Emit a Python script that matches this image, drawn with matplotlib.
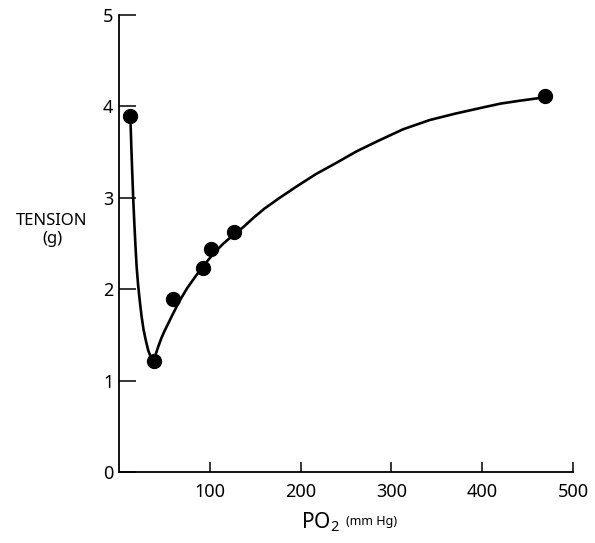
import matplotlib
matplotlib.use("Agg")
import matplotlib.pyplot as plt

# Measured data points
po2 = [12, 38.5, 60, 92.5, 101, 127, 469]
tension = [3.89, 1.21, 1.89, 2.23, 2.44, 2.63, 4.11]

# Hand-drawn fitted curve (traced)
curve_x = [12.8, 13.6, 14.5, 15.7, 16.9, 18.1, 19.4, 21, 22.8, 24.9, 27, 29.5,
           32.2, 34.5, 36.6, 38.5, 40.5, 43.2, 46.5, 50, 54, 57.9, 62, 66, 75,
           85, 95, 105, 115, 128, 137, 148, 160, 177, 195, 217, 239, 262, 287,
           313, 342, 370, 397, 420, 440, 462]
curve_y = [3.80, 3.55, 3.30, 2.98, 2.72, 2.48, 2.25, 2.05, 1.88, 1.70, 1.56, 1.44,
           1.33, 1.27, 1.25, 1.25, 1.29, 1.37, 1.46, 1.54, 1.62, 1.70, 1.78, 1.86,
           2.01, 2.15, 2.28, 2.40, 2.50, 2.61, 2.68, 2.78, 2.88, 3.00, 3.12, 3.26,
           3.38, 3.51, 3.63, 3.75, 3.85, 3.92, 3.98, 4.03, 4.06, 4.09]

xticks = [100, 200, 300, 400, 500]
yticks = [0, 1, 2, 3, 4, 5]

plt.rcParams['font.family'] = ['Noto Sans', 'DejaVu Sans']

fig = plt.figure(figsize=(5.95, 5.43), dpi=100)
ax = fig.add_axes([0.2, 0.1308, 0.763, 0.8416])

ax.plot(curve_x, curve_y, color='black', lw=1.9, solid_capstyle='round',
        solid_joinstyle='round')
ax.plot(po2, tension, 'o', color='black', markersize=10)

ax.set_xlim(0, 500)
ax.set_ylim(0, 5)
ax.set_xticks(xticks)
ax.set_yticks(yticks)
ax.spines['top'].set_visible(False)
ax.spines['right'].set_visible(False)
for s in ('left', 'bottom'):
    ax.spines[s].set_linewidth(1.3)
ax.tick_params(axis='y', direction='in', length=12, width=1.1, labelsize=13, pad=4)
ax.tick_params(axis='x', direction='in', length=7, width=1.1, labelsize=13, pad=8)

fig.text(52 / 595, 1 - 221 / 543, 'TENSION', ha='center', va='center', fontsize=12)
fig.text(52 / 595, 1 - 239 / 543, '(g)', ha='center', va='center', fontsize=12)
fig.text(340 / 595, 1 - 522 / 543, r'P$\mathregular{O_2}$', ha='right', va='center', fontsize=15)
fig.text(346 / 595, 1 - 522 / 543, '(mm Hg)', ha='left', va='center', fontsize=9)

fig.savefig('out.png', dpi=100, facecolor='white')
